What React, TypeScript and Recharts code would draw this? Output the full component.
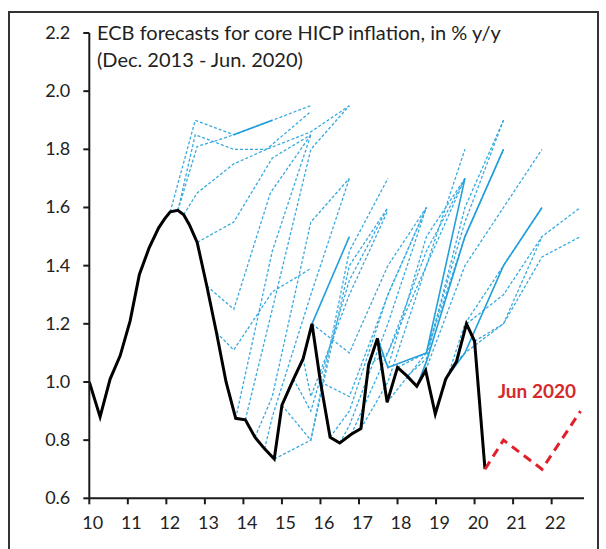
import React from 'react';
import { LineChart, Line, XAxis, YAxis, ReferenceDot } from 'recharts';

// Actual core HICP (black line)
const actualT = [10.0, 10.28, 10.54, 10.8, 11.06, 11.3, 11.55, 11.8, 11.95, 12.1, 12.3, 12.45, 12.6, 12.8, 13.05, 13.3, 13.55, 13.8, 14.05, 14.3, 14.55, 14.8, 15.0, 15.3, 15.55, 15.78, 16.0, 16.25, 16.5, 16.8, 17.05, 17.25, 17.48, 17.73, 18.0, 18.25, 18.5, 18.73, 18.98, 19.25, 19.53, 19.79, 20.0, 20.27];
const actualV = [1.0, 0.88, 1.01, 1.09, 1.21, 1.37, 1.46, 1.53, 1.56, 1.585, 1.59, 1.575, 1.54, 1.48, 1.33, 1.17, 1.0, 0.875, 0.87, 0.81, 0.77, 0.735, 0.92, 1.01, 1.08, 1.2, 1.0, 0.81, 0.79, 0.82, 0.84, 1.06, 1.15, 0.93, 1.05, 1.02, 0.985, 1.04, 0.89, 1.01, 1.07, 1.2, 1.14, 0.7];

// Latest forecast (Jun 2020, red dashed)
const jun2020T = [20.27, 20.75, 21.75, 22.75];
const jun2020V = [0.7, 0.8, 0.7, 0.9];

// Earlier forecasts (blue dashed), [t, value] pairs
const fcA1 = [[12.1, 1.585], [12.75, 1.9], [13.75, 1.85], [14.75, 1.9], [15.75, 1.95]];
const fcA2 = [[12.3, 1.59], [12.75, 1.85], [13.75, 1.8], [14.6, 1.8], [15.75, 1.93]];
const fcA3 = [[12.3, 1.59], [12.8, 1.81], [13.3, 1.83], [13.75, 1.85]];
const fcA4 = [[12.45, 1.575], [12.8, 1.65], [13.75, 1.75], [14.6, 1.8], [15.75, 1.86], [16.75, 1.95]];
const fcA5 = [[12.8, 1.48], [13.75, 1.55], [14.75, 1.77], [15.75, 1.85]];
const fcB1 = [[13.05, 1.33], [13.75, 1.25], [14.7, 1.65], [15.75, 1.85]];
const fcB2 = [[13.3, 1.17], [13.75, 1.11], [14.75, 1.31], [15.75, 1.39]];
const fcB3 = [[13.8, 0.875], [14.75, 1.45], [15.75, 1.85]];
const fcB4 = [[14.05, 0.87], [14.75, 1.25], [15.75, 1.8], [16.75, 1.95]];
const fcB5 = [[14.3, 0.81], [14.75, 0.95], [15.75, 1.55], [16.75, 1.7]];
const fcB6 = [[14.55, 0.77], [14.75, 0.88], [15.75, 1.3], [16.75, 1.7]];
const fcB7 = [[14.8, 0.735], [15.75, 0.8], [16.75, 1.4], [17.75, 1.6]];
const fcC1 = [[15.0, 0.92], [15.75, 0.8], [16.75, 1.45], [17.75, 1.7]];
const fcC2 = [[15.3, 1.01], [15.75, 0.9], [16.75, 1.35], [17.75, 1.6]];
const fcC3 = [[15.55, 1.08], [15.75, 0.95], [16.75, 1.3], [17.75, 1.59]];
const fcC4 = [[15.78, 1.2], [16.75, 1.1], [17.75, 1.4], [18.75, 1.6]];
const fcC5 = [[16.0, 1.0], [16.75, 0.95], [17.75, 1.3], [18.75, 1.6]];
const fcC6 = [[16.25, 0.81], [16.75, 0.9], [17.75, 1.3], [18.75, 1.6]];
const fcC7 = [[16.5, 0.79], [16.75, 0.85], [17.75, 1.2], [18.75, 1.6]];
const fcD1 = [[16.8, 0.82], [17.75, 1.1], [18.75, 1.4], [19.75, 1.8]];
const fcD2 = [[17.05, 0.84], [17.75, 1.0], [18.75, 1.4], [19.75, 1.7]];
const fcD3 = [[17.25, 1.06], [17.75, 1.1], [18.75, 1.45], [19.75, 1.7]];
const fcD4 = [[17.48, 1.15], [17.75, 1.05], [18.75, 1.5], [19.75, 1.7]];
const fcE1 = [[17.73, 0.93], [18.75, 1.1], [19.75, 1.5], [20.75, 1.8]];
const fcE2 = [[18.0, 1.05], [18.75, 1.1], [19.75, 1.55], [20.75, 1.9]];
const fcE3 = [[18.25, 1.02], [18.75, 1.08], [19.75, 1.6], [20.75, 1.9]];
const fcF1 = [[18.73, 1.04], [19.75, 1.4], [20.75, 1.6], [21.75, 1.8]];
const fcF2 = [[18.98, 0.89], [19.75, 1.2], [20.75, 1.4], [21.75, 1.6]];
const fcF3 = [[19.53, 1.07], [19.75, 1.1], [20.75, 1.2], [21.75, 1.5]];
const fcG1 = [[19.79, 1.2], [20.75, 1.3], [21.75, 1.5], [22.75, 1.6]];
const fcG2 = [[20.0, 1.14], [20.75, 1.2], [21.75, 1.43], [22.75, 1.5]];

// Forecasts drawn with a solid blue line
const fsA = [[13.75, 1.85], [14.75, 1.9]];
const fsC = [[15.78, 1.2], [16.75, 1.5]];
const fsD = [[17.48, 1.15], [17.75, 1.05], [18.75, 1.1], [19.75, 1.7]];
const fsE = [[18.5, 0.985], [18.75, 1.07], [19.75, 1.5], [20.75, 1.8]];
const fsF = [[19.25, 1.01], [19.75, 1.1], [20.75, 1.4], [21.75, 1.6]];

const dashedForecasts = [fcA1, fcA2, fcA3, fcA4, fcA5, fcB1, fcB2, fcB3, fcB4, fcB5, fcB6, fcB7, fcC1, fcC2, fcC3, fcC4, fcC5, fcC6, fcC7, fcD1, fcD2, fcD3, fcD4, fcE1, fcE2, fcE3, fcF1, fcF2, fcF3, fcG1, fcG2];
const solidForecasts = [fsA, fsC, fsD, fsE, fsF];

const xTicks = [10, 11, 12, 13, 14, 15, 16, 17, 18, 19, 20, 21, 22];
const yTicks = [0.6, 0.8, 1.0, 1.2, 1.4, 1.6, 1.8, 2.0, 2.2];

const titleLine1 = 'ECB forecasts for core HICP inflation, in % y/y';
const titleLine2 = '(Dec. 2013 - Jun. 2020)';
const labelText = 'Jun 2020';

const FONT = 'Lato, "Open Sans", sans-serif';

const toRows = (pairs: number[][]) => pairs.map(([t, v]) => ({ t, v }));
const actualRows = actualT.map((t, i) => ({ t, v: actualV[i] }));
const junRows = jun2020T.map((t, i) => ({ t, v: jun2020V[i] }));

const XTick = (props: any) => {
  const { x, y, payload } = props;
  return (
    <text x={x + 3.5} y={y} dy={25} textAnchor="middle" fill="#222" fontSize={18} fontFamily={FONT}>
      {payload.value}
    </text>
  );
};

const YTick = (props: any) => {
  const { x, y, payload } = props;
  return (
    <text x={x} y={y} dy={6} textAnchor="end" fill="#222" fontSize={18} fontFamily={FONT}>
      {Number(payload.value).toFixed(1)}
    </text>
  );
};

export default function App() {
  return (
    <div style={{ position: 'absolute', left: 0, top: 0, width: 606, height: 549, background: '#fff', overflow: 'hidden' }}>
      <div style={{ position: 'absolute', left: 8, top: 11, width: 591, height: 560, border: '2px solid #333', boxSizing: 'border-box' }} />
      <LineChart width={606} height={549} margin={{ top: 33, right: 22, bottom: 20.7, left: 29.3 }}>
        <XAxis
          type="number"
          dataKey="t"
          domain={[10, 22.84]}
          ticks={xTicks}
          allowDataOverflow
          tick={<XTick />}
          tickSize={6}
          tickMargin={0}
          height={30}
          stroke="#1a1a1a"
          strokeWidth={2}
          interval={0}
        />
        <YAxis
          type="number"
          dataKey="v"
          domain={[0.6, 2.2]}
          ticks={yTicks}
          allowDataOverflow
          tick={<YTick />}
          tickSize={6}
          tickMargin={13}
          width={60}
          stroke="#1a1a1a"
          strokeWidth={2}
          interval={0}
        />
        {dashedForecasts.map((fc, i) => (
          <Line
            key={'d' + i}
            data={toRows(fc)}
            dataKey="v"
            type="linear"
            stroke="#38aae0"
            strokeWidth={1.3}
            strokeDasharray="3 2"
            dot={false}
            activeDot={false}
            isAnimationActive={false}
          />
        ))}
        {solidForecasts.map((fc, i) => (
          <Line
            key={'s' + i}
            data={toRows(fc)}
            dataKey="v"
            type="linear"
            stroke="#239fda"
            strokeWidth={1.6}
            dot={false}
            activeDot={false}
            isAnimationActive={false}
          />
        ))}
        <Line
          data={actualRows}
          dataKey="v"
          type="linear"
          stroke="#000"
          strokeWidth={3}
          dot={false}
          activeDot={false}
          isAnimationActive={false}
        />
        <Line
          data={junRows}
          dataKey="v"
          type="linear"
          stroke="#e0202b"
          strokeWidth={3}
          strokeDasharray="9 6"
          dot={false}
          activeDot={false}
          isAnimationActive={false}
        />
        <ReferenceDot
          x={21.62}
          y={0.967}
          r={0}
          ifOverflow="visible"
          label={{ value: labelText, position: 'center', fill: '#d42a2a', fontSize: 19, fontWeight: 700, fontFamily: FONT }}
        />
      </LineChart>
      <div style={{ position: 'absolute', left: 97, top: 19, fontFamily: FONT, fontSize: 20, lineHeight: '27px', color: '#222', whiteSpace: 'nowrap' }}>
        <div>{titleLine1}</div>
        <div>{titleLine2}</div>
      </div>
    </div>
  );
}
